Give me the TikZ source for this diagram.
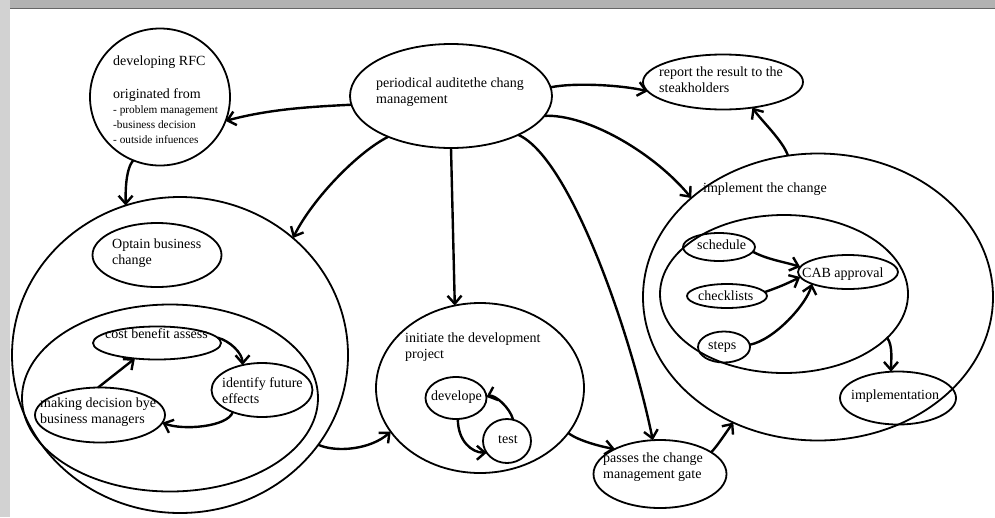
\documentclass[tikz,border=0pt]{standalone}
\usepackage{fontspec}
\setmainfont{Liberation Serif}
\usetikzlibrary{shapes.geometric,arrows.meta}
\begin{document}
\begin{tikzpicture}[x=1pt,y=-1pt,
  ell/.style={draw,ellipse,line width=1.8pt,inner sep=0pt,outer sep=0pt},
  lbl/.style={anchor=base west,inner sep=0pt,font=\fontsize{14}{16}\selectfont},
  sml/.style={anchor=base west,inner sep=0pt,font=\fontsize{11.3}{15}\selectfont},
  arr/.style={line width=2.4pt,-{Straight Barb[length=8pt,width=14pt]}}]
\useasboundingbox (0,0) rectangle (995,517);
\fill[white] (0,0) rectangle (995,517);
\fill[gray!60] (0,0) rectangle (995,8);
\fill[gray!35] (0,0) rectangle (10,517);
\draw[gray!80!black,line width=0.6pt] (10,8.3) -- (995,8.3);

% left group
\node[ell,minimum width=140pt,minimum height=137pt] (rfc) at (160,97) {};
\node[ell,minimum width=336pt,minimum height=316pt] (obtain) at (180,355) {};
\node[ell,minimum width=129pt,minimum height=64pt] (optain) at (157,255) {};
\node[ell,minimum width=296pt,minimum height=187pt] (obtin) at (170,398) {};
\node[ell,minimum width=128pt,minimum height=33pt] (cost) at (157,343) {};
\node[ell,minimum width=101pt,minimum height=54pt] (ident) at (262,390) {};
\node[ell,minimum width=130pt,minimum height=55pt] (making) at (100,415) {};

% top
\node[ell,minimum width=202pt,minimum height=104pt] (peri) at (451,96) {};
\node[ell,minimum width=160pt,minimum height=55pt] (report) at (723,82) {};

% middle
\node[ell,minimum width=208pt,minimum height=170pt] (init) at (480,388) {};
\node[ell,minimum width=61pt,minimum height=42pt] (devel) at (456,398) {};
\node[ell,minimum width=48pt,minimum height=44pt] (test) at (507,441) {};
\node[ell,minimum width=133pt,minimum height=68pt] (passes) at (660,474) {};

% right group
\node[ell,minimum width=350pt,minimum height=287pt] (impl) at (818,297) {};
\node[ell,minimum width=248pt,minimum height=158pt] (implin) at (784,294) {};
\node[ell,minimum width=72pt,minimum height=28pt] (sched) at (719,247) {};
\node[ell,minimum width=100pt,minimum height=34pt] (cab) at (848,272) {};
\node[ell,minimum width=80pt,minimum height=24pt] (check) at (727,296) {};
\node[ell,minimum width=52pt,minimum height=31pt] (steps) at (724,347) {};
\node[ell,minimum width=116pt,minimum height=53pt] (implm) at (898,398) {};

% labels
\node[lbl] (rfc-t1) at (113,65) {developing RFC};
\node[lbl] (rfc-t2) at (113,98) {originated from};
\node[sml] (rfc-t3) at (113,113) {- problem management};
\node[sml] (rfc-t4) at (113,128) {-business decision};
\node[sml] (rfc-t5) at (113,143) {- outside infuences};
\node[lbl] (peri-t1) at (376,87) {periodical auditethe chang};
\node[lbl] (peri-t2) at (376,103) {management};
\node[lbl] (report-t1) at (659,76) {report the result to the};
\node[lbl] (report-t2) at (659,92) {steakholders};
\node[lbl] (impl-t) at (703,192) {implement the change};
\node[lbl] (optain-t1) at (112,248) {Optain business};
\node[lbl] (optain-t2) at (112,264) {change};
\node[lbl] (cost-t) at (105,338) {cost benefit assess};
\node[lbl] (ident-t1) at (222,387) {identify future};
\node[lbl] (ident-t2) at (222,403) {effects};
\node[lbl] (making-t1) at (40,407) {making decision bye};
\node[lbl] (making-t2) at (40,423) {business managers};
\node[lbl] (init-t1) at (405,342) {initiate the development};
\node[lbl] (init-t2) at (405,358) {project};
\node[lbl] (devel-t) at (431,400) {develope};
\node[lbl] (test-t) at (498,443) {test};
\node[lbl] (passes-t1) at (603,462) {passes the change};
\node[lbl] (passes-t2) at (603,478) {management gate};
\node[lbl] (sched-t) at (697,249) {schedule};
\node[lbl] (cab-t) at (802,277) {CAB approval};
\node[lbl] (check-t) at (698,300) {checklists};
\node[lbl] (steps-t) at (708,349) {steps};
\node[lbl] (implm-t) at (851,399) {implementation};

% connectors
\draw[arr] (peri.185) .. controls +(-40,2) and +(45,-12) .. (rfc.340);
\draw[arr] (rfc.247) .. controls +(-8,10) and +(0,-12) .. (obtain.110);
\draw[arr] (peri.213) .. controls +(-30,15) and +(20,-40) .. (obtain.46);
\draw[arr] (peri.270) -- (init.107);
\draw[arr] (peri.330) .. controls +(52,23) and +(-22,-107) .. (passes.102);
\draw[arr] (peri.5) .. controls +(25,-5) and +(-25,-6) .. (report.187);
\draw[arr] (peri.348) .. controls +(43,-2) and +(-37,-45) .. (impl.142);
\draw[arr] (impl.102) .. controls +(-5,-15) and +(8,12) .. (report.319);
\draw[arr] (obtain.327) .. controls +(18,8) and +(-20,18) .. (init.206);
\draw[arr] (init.333) .. controls +(10,8) and +(-12,-2) .. (passes.151);
\draw[arr] (passes.23) .. controls +(6,-6) and +(-6,8) .. (impl.236);
\draw[arr] (cost.5) .. controls +(12,3) and +(0,-12) .. (ident.128);
\draw[arr] (ident.217) .. controls +(-5,15) and +(20,8) .. (making.353);
\draw[arr] (making.94) -- (cost.215);
\draw[arr] (devel.275) .. controls +(0,22) and +(-15,0) .. (test.210);
\draw[arr] (test.74) .. controls +(-3,-12) and +(8,-3) .. (devel.2);
\draw[arr] (sched.352) .. controls +(15,8) and +(-15,-5) .. (cab.174);
\draw[arr] (check.6) .. controls +(15,-5) and +(-10,5) .. (cab.186);
\draw[arr] (steps.5) .. controls +(25,-5) and +(-5,20) .. (cab.198);
\draw[arr] (implin.337) .. controls +(6,8) and +(0,-10) .. (implm.105);
\end{tikzpicture}
\end{document}
